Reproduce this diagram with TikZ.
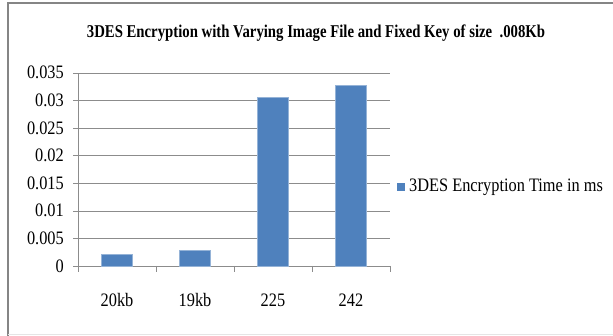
\documentclass[tikz,border=0pt]{standalone}
\usepackage{fontspec}
\setmainfont{Liberation Serif}
\newfontfamily\chartfont[FakeStretch = 0.86]{Liberation Serif}
\newfontfamily\titlefont[FakeStretch = 0.82]{Liberation Serif}

\definecolor{barblue}{HTML}{4F81BD}
\definecolor{gridgray}{HTML}{8C8C8C}
\definecolor{framegray}{HTML}{858585}

\tikzset{
    bar/.style = {fill = barblue, draw = barblue!60!white, line width = 0.6pt},
    ticklabel/.style = {font = \chartfont\fontsize{19}{19}\selectfont, inner sep = 0pt}
}

\begin{document}
\begin{tikzpicture}[x = 1pt, y = 1pt]
    \useasboundingbox (0, 0) rectangle (613, 336);
    \draw[framegray, line width = 2pt] (613, 332.5) -- (7.5, 332.5) -- (7.5, 0);
    \draw[black!10, line width = 1pt] (7.5, 1) -- (613, 1);

    \node (title) at (316, 303) {\titlefont\bfseries\fontsize{18}{18}\selectfont 3DES Encryption with Varying Image File and Fixed Key of size\ \ .008Kb};

    \foreach \k/\lab in {0/0, 1/0.005, 2/0.01, 3/0.015, 4/0.02, 5/0.025, 6/0.03, 7/0.035}
    {
        \draw[gridgray] (73, 70 + 27.6*\k) -- (390, 70 + 27.6*\k);
        \node[ticklabel, anchor = east] (ylab\k) at (64, 70 + 27.6*\k) {\lab};
    }
    \draw[gridgray] (78, 64) -- (78, 263.2);
    \foreach \x in {156, 234, 312, 390}
        \draw[gridgray] (\x, 70) -- (\x, 64);

    \filldraw[bar] (101.5, 70) rectangle ++ (31, 11.6);
    \filldraw[bar] (179.5, 70) rectangle ++ (31, 16);
    \filldraw[bar] (257.5, 70) rectangle ++ (31, 168.4);
    \filldraw[bar] (335.5, 70) rectangle ++ (31, 181.1);

    \node[ticklabel] (xlab1) at (117, 36) {20kb};
    \node[ticklabel] (xlab2) at (195, 36) {19kb};
    \node[ticklabel] (xlab3) at (273, 36) {225};
    \node[ticklabel] (xlab4) at (351, 36) {242};

    \fill[barblue] (397, 145) rectangle ++ (8, 8);
    \node[ticklabel, anchor = west] (legend) at (409, 148.5) {3DES Encryption Time in ms};
\end{tikzpicture}
\end{document}
